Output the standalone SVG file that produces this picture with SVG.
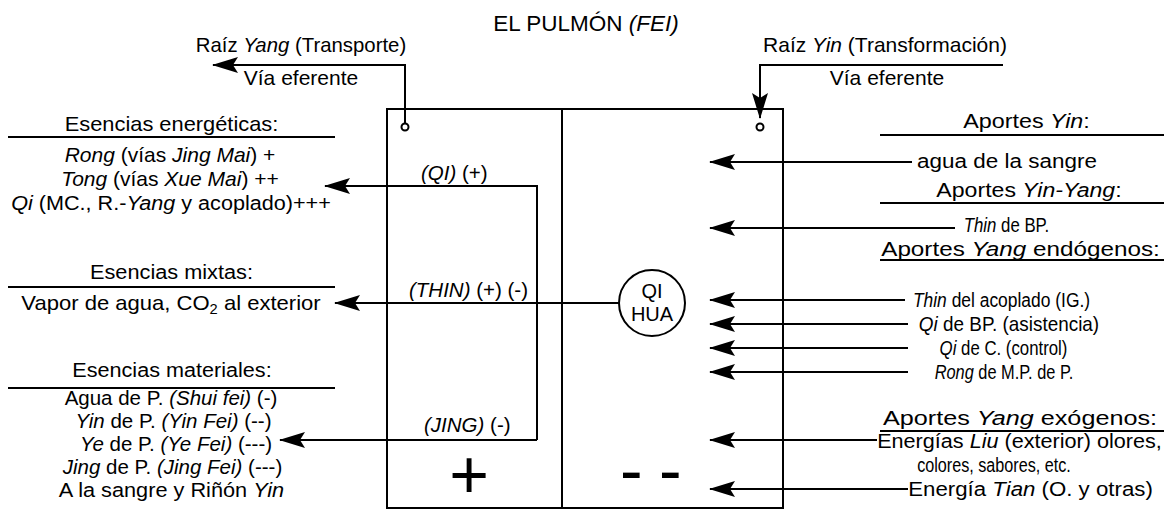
<svg xmlns="http://www.w3.org/2000/svg" width="1164" height="514" viewBox="0 0 1164 514">
<style>
.t{font-family:"Liberation Sans",Arial,sans-serif;font-size:21px;fill:#000;text-anchor:middle}
.s{font-size:20.5px}
.in{font-size:20.5px;text-anchor:start}
.i{font-style:italic}
.ttl{font-size:22.5px}
.ln{stroke:#000;stroke-width:2;fill:none}
.ar{stroke:#000;stroke-width:2;fill:none;marker-end:url(#ah)}
.dot{stroke:#000;stroke-width:2;fill:#fff}
</style>
<defs>
<marker id="ah" viewBox="0 0 26 16" refX="25" refY="8" markerWidth="26" markerHeight="16" markerUnits="userSpaceOnUse" orient="auto">
<path d="M26,8 L0,0 L5,8 L0,16 Z" fill="#000"/>
</marker>
</defs>
<rect width="1164" height="514" fill="#fff"/>

<g id="title"><text class="t ttl" x="586" y="31">EL PULMÓN <tspan class="i">(FEI)</tspan></text></g>

<g id="lung">
<rect class="ln" x="387" y="109" width="396" height="399"/>
<line class="ln" x1="562" y1="109" x2="562" y2="508"/>
<circle class="dot" cx="405" cy="127" r="3.5"/>
<circle class="dot" cx="760" cy="127" r="3.5"/>
<text class="t" x="469" y="498" style="font-size:68px">+</text>
<text class="t" x="620 659" y="494" style="font-size:68px;text-anchor:start">--</text>
</g>

<g id="inner-labels">
<text class="t in" x="421" y="180"><tspan class="i">(QI)</tspan> (+)</text>
<text class="t in" x="409" y="297"><tspan class="i">(THIN)</tspan> (+) (-)</text>
<text class="t in" x="424" y="432"><tspan class="i">(JING)</tspan> (-)</text>
</g>

<g id="qi-hua">
<circle class="ln" cx="652" cy="303" r="33" fill="#fff"/>
<text class="t" x="652" y="298" style="font-size:20px">QI</text>
<text class="t" x="652" y="321" style="font-size:20px">HUA</text>
</g>

<g id="root-yang">
<text class="t" transform="translate(301,52) scale(0.97,1)">Raíz <tspan class="i">Yang</tspan> (Transporte)</text>
<text class="t" x="301" y="85">Vía eferente</text>
</g>

<g id="root-yin">
<text class="t" x="885" y="52">Raíz <tspan class="i">Yin</tspan> (Transformación)</text>
<text class="t" x="887" y="85">Vía eferente</text>
</g>

<g id="esencias-energeticas">
<text class="t" transform="translate(171.5,131) scale(1.04,1)">Esencias energéticas:</text>
<line class="ln" x1="8" y1="137" x2="335" y2="137"/>
<text class="t" x="170" y="162"><tspan class="i">Rong</tspan> (vías <tspan class="i">Jing Mai</tspan>) +</text>
<text class="t" x="170" y="186"><tspan class="i">Tong</tspan> (vías <tspan class="i">Xue Mai</tspan>) ++</text>
<text class="t" transform="translate(171,209.5) scale(1.03,1)"><tspan class="i">Qi</tspan> (MC., R.-<tspan class="i">Yang</tspan> y acoplado)+++</text>
</g>

<g id="esencias-mixtas">
<text class="t" transform="translate(171.5,279) scale(1.035,1)">Esencias mixtas:</text>
<line class="ln" x1="8" y1="287" x2="335" y2="287"/>
<text class="t" transform="translate(171,310) scale(1.05,1)">Vapor de agua, CO<tspan style="font-size:14px" dy="4">2</tspan><tspan dy="-4"> al exterior</tspan></text>
</g>

<g id="esencias-materiales">
<text class="t" transform="translate(172,377) scale(1.03,1)">Esencias materiales:</text>
<line class="ln" x1="8" y1="388" x2="335" y2="388"/>
<text class="t s" x="171" y="405">Agua de P. <tspan class="i">(Shui fei)</tspan> (-)</text>
<text class="t s" x="173.5" y="428"><tspan class="i">Yin</tspan> de P. <tspan class="i">(Yin Fei)</tspan> (--)</text>
<text class="t s" x="176" y="451"><tspan class="i">Ye</tspan> de P. <tspan class="i">(Ye Fei)</tspan> (---)</text>
<text class="t s" x="172.5" y="474"><tspan class="i">Jing</tspan> de P. <tspan class="i">(Jing Fei)</tspan> (---)</text>
<text class="t s" transform="translate(171.5,497) scale(1.06,1)">A la sangre y Riñón <tspan class="i">Yin</tspan></text>
</g>

<g id="aportes-yin">
<text class="t" transform="translate(1026.5,128) scale(1.11,1)">Aportes <tspan class="i">Yin</tspan>:</text>
<line class="ln" x1="880" y1="135" x2="1164" y2="135"/>
<text class="t" transform="translate(1007,168) scale(1.07,1)">agua de la sangre</text>
</g>

<g id="aportes-yin-yang">
<text class="t" transform="translate(1029,197) scale(1.1,1)">Aportes <tspan class="i">Yin-Yang</tspan>:</text>
<line class="ln" x1="880" y1="203" x2="1164" y2="203"/>
<text class="t" transform="translate(1006.5,232) scale(0.8,1)"><tspan class="i">Thin</tspan> de BP.</text>
</g>

<g id="aportes-yang-endogenos">
<text class="t" transform="translate(1020.5,256) scale(1.155,1)">Aportes <tspan class="i">Yang</tspan> endógenos:</text>
<line class="ln" x1="880" y1="260" x2="1164" y2="260"/>
<text class="t" transform="translate(1001.5,307) scale(0.83,1)"><tspan class="i">Thin</tspan> del acoplado (IG.)</text>
<text class="t" transform="translate(1009,331) scale(0.9,1)"><tspan class="i">Qi</tspan> de BP. (asistencia)</text>
<text class="t" transform="translate(1003.5,355) scale(0.8,1)"><tspan class="i">Qi</tspan> de C. (control)</text>
<text class="t" transform="translate(1004,379) scale(0.78,1)"><tspan class="i">Rong</tspan> de M.P. de P.</text>
</g>

<g id="aportes-yang-exogenos">
<text class="t" transform="translate(1020,425) scale(1.2,1)">Aportes <tspan class="i">Yang</tspan> exógenos:</text>
<line class="ln" x1="880" y1="431" x2="1164" y2="431"/>
<text class="t" transform="translate(1019.5,448) scale(1.03,1)">Energías <tspan class="i">Liu</tspan> (exterior) olores,</text>
<text class="t" transform="translate(994,472) scale(0.77,1)">colores, sabores, etc.</text>
<text class="t" transform="translate(1030.5,496) scale(1.06,1)">Energía <tspan class="i">Tian</tspan> (O. y otras)</text>
</g>

<g id="connectors">
<path class="ar" d="M405,123.5 L405,65 L213,65"/>
<path class="ar" d="M1003,65 L760,65 L760,118"/>
<path class="ar" d="M537,440 L537,186 L325,186"/>
<path class="ar" d="M537,440 L280,440"/>
<path class="ar" d="M619,303 L335,303"/>
<path class="ar" d="M912,162 L710,162"/>
<path class="ar" d="M955,228 L710,228"/>
<path class="ar" d="M905,300 L710,300"/>
<path class="ar" d="M908,324 L710,324"/>
<path class="ar" d="M908,348 L710,348"/>
<path class="ar" d="M908,372 L710,372"/>
<path class="ar" d="M877,440 L710,440"/>
<path class="ar" d="M908,489 L710,489"/>
</g>
</svg>
